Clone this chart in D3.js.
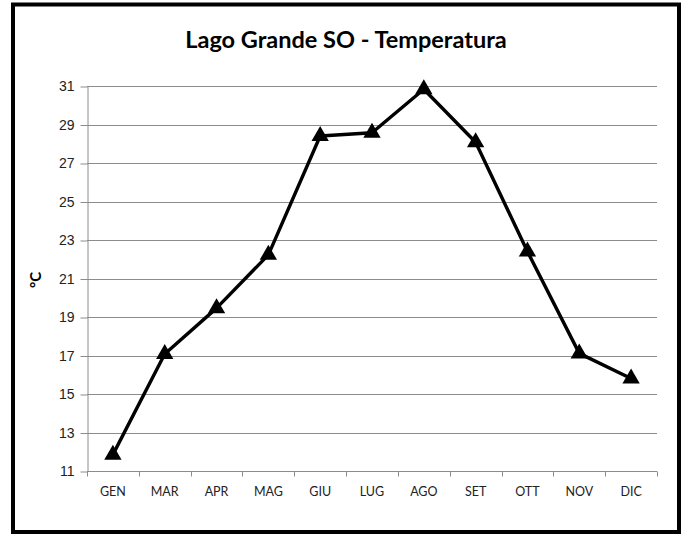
<!DOCTYPE html>
<html>
<head>
<meta charset="utf-8">
<script src="https://cdn.jsdelivr.net/npm/d3@7"></script>
<style>
  body { margin: 0; background: #fff; }
  svg { display: block; font-family: Lato, "Open Sans", sans-serif; }
  .grid line { stroke: #8c8c8c; }
  .axis path, .axis line { stroke: #8c8c8c; }
  .axis text { fill: #222; }
</style>
</head>
<body>
<div id="app"></div>
<script>
const months = ['GEN', 'MAR', 'APR', 'MAG', 'GIU', 'LUG', 'AGO', 'SET', 'OTT', 'NOV', 'DIC'];
const temps = [11.85, 17.08, 19.46, 22.23, 28.4, 28.57, 30.83, 28.08, 22.4, 17.11, 15.81];
const yTicks = [11, 13, 15, 17, 19, 21, 23, 25, 27, 29, 31];

const width = 689;
const height = 534;
const margin = { top: 86, right: 32, bottom: 63, left: 87 };

const svg = d3.select('#app')
  .append('svg')
  .attr('width', width)
  .attr('height', height);

// chart frame
svg.append('rect')
  .attr('x', 13)
  .attr('y', 4.5)
  .attr('width', 666)
  .attr('height', 527.5)
  .attr('fill', 'none')
  .attr('stroke', '#000')
  .attr('stroke-width', 4);

const x = d3.scaleBand()
  .domain(months)
  .range([margin.left, width - margin.right])
  .padding(0);

const y = d3.scaleLinear()
  .domain([11, 31])
  .range([height - margin.bottom, margin.top]);

// gridlines
svg.append('g')
  .attr('class', 'grid')
  .selectAll('line')
  .data(yTicks.slice(1))
  .join('line')
  .attr('x1', margin.left)
  .attr('x2', width - margin.right)
  .attr('y1', d => Math.round(y(d)) + 0.5)
  .attr('y2', d => Math.round(y(d)) + 0.5);

// y axis
const yAxis = svg.append('g')
  .attr('class', 'axis')
  .attr('transform', `translate(${margin.left + 0.5},0.5)`)
  .call(d3.axisLeft(y).tickValues(yTicks).tickSize(7).tickPadding(6).tickSizeOuter(0));
yAxis.selectAll('text').attr('font-size', 14);

// x axis with ticks at band edges
const xAxis = svg.append('g')
  .attr('class', 'axis')
  .attr('transform', `translate(0,${Math.round(y(11)) + 0.5})`);
xAxis.append('line')
  .attr('x1', margin.left)
  .attr('x2', width - margin.right);
xAxis.selectAll('line.tk')
  .data(months.concat(['end']))
  .join('line')
  .attr('class', 'tk')
  .attr('x1', (d, i) => Math.round(i < months.length ? x(d) : x.range()[1]) + 0.5)
  .attr('x2', (d, i) => Math.round(i < months.length ? x(d) : x.range()[1]) + 0.5)
  .attr('y1', 0)
  .attr('y2', 5);
xAxis.selectAll('text')
  .data(months)
  .join('text')
  .attr('x', d => x(d) + x.bandwidth() / 2)
  .attr('y', 24)
  .attr('text-anchor', 'middle')
  .attr('font-size', 12.5)
  .attr('fill', '#222')
  .text(d => d);

// line
const line = d3.line()
  .x((d, i) => x(months[i]) + x.bandwidth() / 2)
  .y(d => y(d));

svg.append('path')
  .datum(temps)
  .attr('d', line)
  .attr('fill', 'none')
  .attr('stroke', '#000')
  .attr('stroke-width', 3.4)
  .attr('stroke-linejoin', 'round');

// triangle markers
const tri = d3.symbol().type(d3.symbolTriangle).size(130);
svg.append('g')
  .selectAll('path')
  .data(temps)
  .join('path')
  .attr('transform', (d, i) => `translate(${x(months[i]) + x.bandwidth() / 2},${y(d)})`)
  .attr('d', tri)
  .attr('fill', '#000');

// title
svg.append('text')
  .attr('x', 346)
  .attr('y', 48)
  .attr('text-anchor', 'middle')
  .attr('font-size', 23.5)
  .attr('font-weight', 'bold')
  .attr('fill', '#000')
  .text('Lago Grande SO - Temperatura');

// y label
svg.append('text')
  .attr('transform', 'translate(41,280) rotate(-90)')
  .attr('text-anchor', 'middle')
  .attr('font-size', 15)
  .attr('font-weight', 'bold')
  .attr('fill', '#000')
  .text('°C');
</script>
</body>
</html>
